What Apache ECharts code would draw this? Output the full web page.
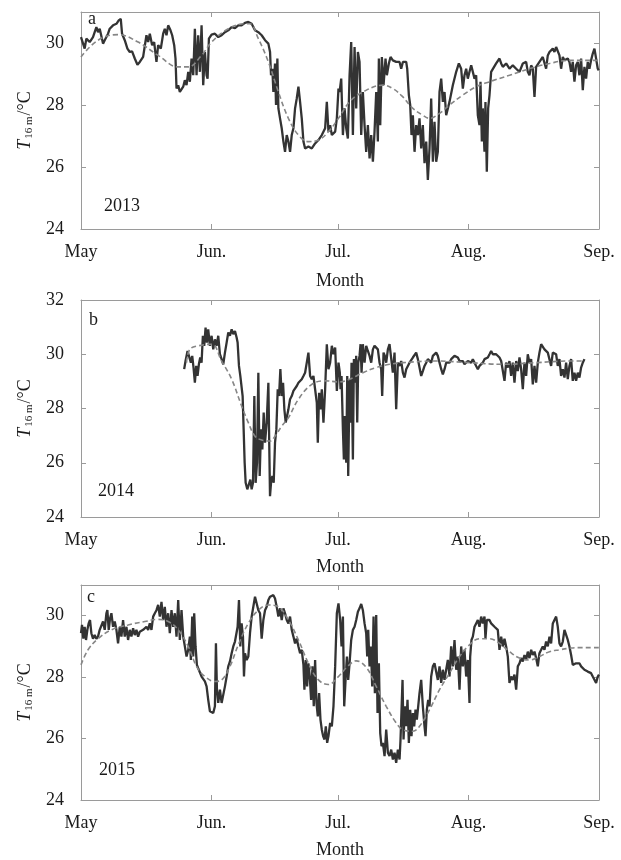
<!DOCTYPE html>
<html>
<head>
<meta charset="utf-8">
<script src="https://cdn.jsdelivr.net/npm/echarts@6/dist/echarts.min.js"></script>
<style>
html,body{margin:0;padding:0;background:#fff;}
#chart{width:621px;height:860px;}
</style>
</head>
<body>
<div id="chart"></div>
<script>
// x values are days since 1 May
const monthTicks = [0, 31, 61, 92, 123];
const monthLabels = ['May', 'Jun.', 'Jul.', 'Aug.', 'Sep.'];
const panelLetters = ['a', 'b', 'c'];
const panelYears = ['2013', '2014', '2015'];
const yMax = [31, 32, 31];
const yTicksA = [24, 26, 28, 30];
const yTicksB = [24, 26, 28, 30, 32];
const yTicksC = [24, 26, 28, 30];

const obs2013 = [[0,30.19],[0.87,29.82],[1.27,30.14],[2.06,30.03],[2.85,30.19],[3.65,30.51],[4.04,30.35],[4.44,30.46],[5.23,29.98],[5.63,30.09],[6.42,30.30],[6.82,30.46],[7.61,30.57],[8.41,30.62],[8.96,30.73],[9.44,30.78],[9.75,30.30],[10.39,30.09],[11.02,29.82],[11.58,29.71],[12.13,29.73],[12.77,29.50],[13.40,29.30],[13.96,29.39],[14.75,29.55],[15.54,30.25],[15.94,30.03],[16.34,30.30],[16.89,29.93],[17.37,30.03],[17.92,29.39],[18.32,29.93],[18.95,29.82],[19.51,30.30],[19.90,30.46],[20.30,30.25],[20.70,30.57],[21.25,30.41],[21.65,30.25],[22.13,29.93],[22.44,29.50],[22.68,28.53],[23.08,28.64],[23.47,28.42],[23.87,28.48],[24.27,28.59],[24.66,28.80],[25.06,28.64],[25.46,29.07],[25.85,28.75],[26.25,29.50],[26.65,28.96],[27.04,30.46],[27.44,28.96],[27.83,30.25],[28.23,29.07],[28.63,30.57],[29.02,28.64],[29.42,29.71],[29.82,28.96],[30.06,28.85],[30.37,30.14],[31.01,30.27],[31.80,30.30],[32.59,30.19],[33.39,30.25],[34.18,30.35],[34.97,30.41],[35.77,30.51],[36.56,30.48],[37.35,30.57],[38.14,30.57],[38.94,30.65],[39.73,30.68],[40.52,30.62],[41.32,30.41],[42.11,30.35],[42.90,30.25],[43.70,30.09],[44.49,29.98],[44.89,29.71],[45.12,28.96],[45.44,29.17],[45.68,28.42],[46.07,29.34],[46.31,28.00],[46.63,29.50],[46.87,27.89],[47.26,27.57],[47.66,27.25],[48.06,26.82],[48.45,26.49],[48.85,27.03],[49.25,26.82],[49.64,26.49],[50.04,27.03],[50.44,27.25],[50.83,27.89],[51.23,28.21],[51.63,28.59],[52.02,28.10],[52.42,27.57],[52.82,26.82],[53.21,26.60],[54.0,26.66],[54.80,26.60],[55.59,26.76],[56.38,26.87],[57.18,27.03],[57.97,27.25],[58.37,28.10],[58.76,27.14],[59.16,27.35],[59.56,27.03],[60.35,27.14],[60.75,27.57],[61.14,28.53],
[61.40,28.42],[61.79,28.85],[62.19,27.03],[62.58,27.89],[62.98,27.25],[63.37,26.92],[63.77,28.96],[64.16,30.03],[64.56,27.03],[64.96,29.87],[65.35,27.89],[65.75,29.71],[66.14,29.39],[66.54,27.03],[66.93,28.42],[67.33,27.35],[67.72,26.49],[68.12,27.35],[68.52,26.28],[68.91,27.03],[69.31,26.17],[69.70,27.14],[70.10,28.42],[70.49,26.82],[70.73,29.50],[71.05,27.35],[71.44,29.55],[71.84,28.64],[72.31,29.50],[72.63,28.96],[73.10,29.34],[73.50,29.55],[74.05,29.44],[74.84,29.39],[75.64,29.39],[76.03,29.17],[76.43,29.39],[77.22,29.39],[77.46,29.17],[77.85,28.32],[78.17,28.00],[78.48,27.03],[78.80,27.67],[79.20,26.49],[79.59,27.35],[79.99,27.03],[80.38,27.57],[80.78,26.60],[81.17,27.35],[81.57,26.12],[81.97,26.82],[82.36,25.58],[82.76,26.60],[83.15,28.21],[83.55,26.17],[83.94,27.46],[84.34,26.17],[84.73,26.49],[85.13,28.42],[85.53,28.85],[85.92,28.10],[86.32,28.42],[86.71,27.67],[87.50,28.10],[88.29,28.64],[89.09,29.07],[89.72,29.34],[90.27,29.17],[90.67,28.53],[91.06,28.96],[91.46,29.17],[91.85,28.85],[92.25,29.07],[92.65,29.28],[93.04,29.34],[93.44,28.85],[93.83,28.96],[94.23,27.67],[94.62,27.35],[94.86,28.75],[95.18,26.82],[95.41,27.89],[95.81,26.49],[96.04,28.10],[96.36,25.85],[96.68,27.89],[97.00,28.32],[97.39,29.07],[97.79,29.12],[98.58,29.34],[99.37,29.50],[99.77,29.34],[100.16,29.23],[100.95,29.34],[101.74,29.17],[102.53,29.28],[103.33,29.17],[103.72,29.23],[104.12,29.07],[104.91,29.34],[105.30,29.28],[105.70,29.39],[106.09,29.07],[106.49,28.96],[106.89,29.28],[107.28,29.17],[107.68,28.26],[108.07,29.23],[108.86,29.39],[109.65,29.55],[110.05,29.50],[110.44,29.17],[110.84,29.60],[111.24,29.71],[111.63,29.76],[112.03,29.82],[112.42,29.71],[112.82,29.87],[113.21,29.84],[113.61,29.60],[114.00,29.17],[114.40,29.55],[114.80,29.44],[115.19,29.39],[115.59,29.50],[115.98,29.39],[116.38,29.07],[116.77,29.39],[117.17,28.75],[117.56,29.28],[117.96,29.39],[118.35,28.96],[118.75,29.50],[119.15,28.48],[119.54,29.23],[119.94,28.85],[120.33,29.39],[120.73,29.17],[121.12,29.44],[121.52,29.66],[121.92,29.82],[122.31,29.76],[122.71,29.17],[122.94,29.12]];

const trend2013 = [[0,29.55],[4.04,30.09],[8.8,30.27],[13.56,30.03],[18.32,29.60],[23.08,29.23],[25.46,29.23],[28.63,29.60],[31.01,30.03],[34.97,30.46],[38.94,30.62],[40.1,30.62],[42.11,30.14],[44.49,29.39],[46.87,28.42],[49.25,27.57],[51.63,27.03],[54.0,26.82],[56.38,26.87],[58.76,27.14],[61.14,27.57],[63.77,28.10],[66.93,28.42],[71.68,28.64],[74.05,28.53],[76.43,28.26],[78.80,27.89],[81.17,27.67],[82.76,27.57],[85.13,27.73],[87.50,28.00],[90.67,28.32],[93.83,28.59],[97.0,28.75],[101.74,28.96],[106.49,29.17],[111.24,29.34],[115.98,29.44],[123,29.44]];

const obs2014 = [[24.50,29.45],[24.82,29.75],[25.30,30.12],[25.69,30.18],[26.09,29.69],[26.41,29.94],[26.72,29.51],[27.04,28.95],[27.36,29.57],[27.68,29.20],[27.99,29.63],[28.31,29.88],[28.63,29.69],[28.94,30.68],[29.26,30.31],[29.58,30.98],[29.90,30.43],[30.21,30.92],[30.61,30.31],[31.01,30.68],[31.40,30.18],[31.80,30.55],[32.20,30.31],[32.59,30.68],[32.99,30.00],[33.39,29.82],[33.78,29.63],[34.18,30.06],[34.58,30.43],[34.97,30.80],[35.37,30.68],[35.77,30.92],[36.16,30.74],[36.56,30.86],[36.95,30.62],[37.19,30.43],[37.51,29.57],[37.83,29.20],[38.14,29.14],[38.38,28.46],[38.62,27.23],[38.86,26.00],[39.10,25.26],[39.49,25.02],[39.89,24.95],[40.21,25.38],[40.52,25.02],[40.84,25.26],[41.16,28.46],[41.47,25.26],[41.79,26.00],[42.11,29.32],[42.43,25.51],[42.74,27.23],[43.06,26.49],[43.38,27.85],[43.70,26.74],[44.09,27.48],[44.49,28.95],[44.88,24.77],[45.12,25.26],[45.44,25.51],[45.76,25.26],[46.07,26.74],[46.39,27.23],[46.71,28.71],[47.03,28.46],[47.34,29.45],[47.66,28.46],[47.98,28.95],[48.29,27.97],[48.61,27.48],[48.93,27.72],[49.25,27.97],[49.64,28.34],[50.04,28.46],[50.44,28.65],[50.83,28.71],[51.23,28.83],[51.63,28.95],[52.02,28.89],[52.42,29.08],[52.82,29.20],[53.21,29.32],[53.61,29.69],[54.00,30.06],[54.40,29.20],[54.80,29.08],[55.19,29.20],[55.59,28.71],[55.99,28.22],[56.23,26.74],[56.54,28.58],[56.86,27.97],[57.18,28.71],[57.57,27.48],[57.97,28.71],[58.37,30.37],[58.76,29.45],[59.16,29.69],[59.56,30.31],[59.95,30.00],[60.35,30.25],[60.75,28.65],[61.14,29.69],[61.46,29.32],
[61.63,28.71],[61.87,29.20],[62.19,27.23],[62.42,26.12],[62.66,27.72],[62.98,26.00],[63.22,29.20],[63.45,25.51],[63.77,29.08],[64.01,27.48],[64.24,29.69],[64.56,26.12],[64.80,29.82],[65.03,28.95],[65.35,29.94],[65.59,27.48],[65.83,29.69],[66.14,29.94],[66.38,30.37],[66.62,29.32],[66.93,30.37],[67.33,29.69],[67.72,30.31],[68.12,30.12],[68.52,29.94],[68.91,29.69],[69.31,30.18],[69.70,30.31],[70.10,30.37],[70.49,30.18],[70.89,29.69],[71.28,29.45],[71.52,28.46],[71.84,30.06],[72.15,29.94],[72.47,29.69],[72.87,30.18],[73.26,30.37],[73.66,30.31],[74.05,29.32],[74.45,30.06],[74.84,27.97],[75.24,29.69],[75.64,29.57],[76.03,29.75],[76.43,29.32],[76.82,29.14],[77.22,29.45],[77.61,29.38],[78.01,29.69],[78.40,29.75],[78.80,29.88],[79.20,29.94],[79.59,30.06],[79.99,29.82],[80.38,29.51],[80.78,29.20],[81.17,29.38],[81.57,29.57],[81.97,29.69],[82.36,29.82],[82.76,29.88],[83.15,29.69],[83.55,29.94],[83.94,29.94],[84.34,30.06],[84.73,29.94],[85.13,29.69],[85.53,29.45],[85.92,29.26],[86.32,29.45],[86.71,29.69],[87.11,29.75],[87.50,29.69],[87.90,29.82],[88.29,29.88],[88.69,29.94],[89.09,29.88],[89.48,29.88],[89.88,29.75],[90.27,29.69],[90.67,29.75],[91.06,29.63],[91.46,29.69],[91.85,29.75],[92.25,29.75],[92.65,29.69],[93.04,29.82],[93.44,29.75],[93.83,29.57],[94.23,29.45],[94.62,29.57],[95.02,29.63],[95.41,29.69],[95.81,29.82],[96.20,29.75],[96.60,29.88],[97.00,30.00],[97.39,30.12],[97.79,30.00],[98.18,29.94],[98.58,30.00],[98.97,29.96],[99.37,29.88],[99.77,29.75],[100.16,29.69],[100.56,29.02],[100.95,29.69],[101.35,29.51],[101.74,29.75],[102.14,29.20],[102.53,29.69],[102.93,28.95],[103.33,29.75],[103.72,29.38],[104.12,29.88],[104.51,29.45],[104.91,28.71],[105.30,29.69],[105.70,29.20],[106.09,30.00],[106.49,29.69],[106.89,29.82],[107.28,28.89],[107.68,29.57],[108.07,28.95],[108.47,29.69],[108.86,30.06],[109.26,30.37],[109.65,30.31],[110.05,30.18],[110.44,30.18],[110.84,30.06],[111.24,30.00],[111.63,29.57],[112.03,30.06],[112.42,30.12],[112.82,30.00],[113.21,29.57],[113.61,29.82],[114.00,29.20],[114.40,29.45],[114.80,29.14],[115.19,29.69],[115.59,29.08],[115.98,29.57],[116.38,29.82],[116.77,29.02],[117.17,29.32],[117.56,29.02],[117.96,29.32],[118.35,29.14],[118.75,29.51],[119.15,29.69],[119.54,29.82]];

const trend2014 = [[25.06,29.69],[25.85,30.18],[27.83,30.31],[31.0,30.37],[33.39,29.75],[35.77,29.08],[38.14,28.09],[39.73,27.48],[41.32,26.98],[42.9,26.84],[44.88,26.80],[46.07,26.98],[47.66,27.35],[49.25,27.66],[51.63,28.34],[54.80,28.89],[57.97,29.02],[61.14,28.98],[63.77,29.08],[66.93,29.32],[70.10,29.51],[73.26,29.63],[76.43,29.69],[84.34,29.75],[92.25,29.69],[100.16,29.63],[108.07,29.69],[115.98,29.75],[119.54,29.75]];

const obs2015 = [[0,29.43],[0.24,29.70],[0.56,29.25],[0.87,29.64],[1.19,29.21],[1.51,29.54],[1.82,29.75],[2.14,29.86],[2.46,29.43],[2.85,29.25],[3.25,29.37],[3.65,29.25],[4.04,29.32],[4.44,29.54],[4.84,29.48],[5.23,29.81],[5.63,29.54],[6.03,30.08],[6.26,30.18],[6.58,29.54],[6.90,29.91],[7.22,30.08],[7.61,29.64],[8.01,29.81],[8.41,29.54],[8.80,29.10],[9.20,29.64],[9.60,29.32],[9.99,29.86],[10.39,29.32],[10.79,29.64],[11.18,29.21],[11.58,29.54],[11.97,29.32],[12.37,29.59],[12.77,29.37],[13.16,29.54],[13.56,29.32],[13.96,29.48],[14.35,29.43],[14.75,29.54],[15.15,29.48],[15.54,29.64],[15.94,29.54],[16.34,29.75],[16.73,29.54],[17.13,29.97],[17.53,30.08],[17.92,30.18],[18.32,30.35],[18.72,29.97],[19.11,30.45],[19.51,29.86],[19.90,30.29],[20.30,29.64],[20.70,30.08],[21.09,29.43],[21.49,30.18],[21.89,29.64],[22.28,30.08],[22.68,29.32],[23.08,30.51],[23.47,29.21],[23.87,30.18],[24.27,29.32],[24.66,29.00],[25.06,28.67],[25.46,28.89],[25.85,29.32],[26.09,28.56],[26.41,29.97],[26.65,28.67],[26.88,30.08],[27.20,29.00],[27.52,28.40],[27.83,28.29],[28.23,28.24],[28.63,28.02],[29.02,27.97],[29.42,27.86],[29.82,27.70],[30.21,27.26],[30.61,26.89],[31.01,26.83],[31.40,26.83],[31.80,27.05],[32.04,29.10],[32.28,27.59],[32.59,27.16],[32.99,27.59],[33.39,27.16],[33.78,27.10],[34.18,27.70],[34.58,28.02],[34.97,28.35],[35.37,28.51],[35.77,28.78],[36.16,29.00],[36.56,29.16],[36.95,29.21],[37.19,29.64],[37.51,30.51],[37.83,29.00],[38.14,29.75],[38.46,29.32],[38.70,28.02],[38.94,28.78],[39.33,28.56],[39.73,28.67],[40.13,29.43],[40.52,29.97],[40.92,30.29],[41.32,30.62],[41.71,30.67],[42.11,30.18],[42.51,30.08],[42.90,29.25],[43.30,29.86],[43.70,30.18],[44.09,30.29],[44.49,30.51],[44.88,30.62],[45.28,30.67],[45.68,30.67],[46.07,30.56],[46.47,30.29],[46.87,29.97],[47.26,30.24],[47.66,29.86],[48.06,30.24],[48.45,30.08],[48.85,29.86],[49.25,29.75],[49.64,29.97],[50.04,29.54],[50.44,29.32],[50.83,29.10],[51.23,29.25],[51.63,29.00],[52.02,28.78],[52.42,28.89],[52.82,28.40],[53.05,27.59],[53.37,28.56],[53.69,27.70],[54.00,28.45],[54.32,28.02],[54.64,27.26],[54.96,28.35],[55.27,27.05],[55.59,28.56],[55.91,27.16],[56.23,26.72],[56.54,27.48],[56.86,26.62],[57.18,26.29],[57.49,26.08],[57.81,25.97],[58.13,26.40],[58.45,25.86],[58.76,26.08],[59.16,26.51],[59.56,26.40],[59.95,27.05],[60.35,28.35],[60.75,30.08],[61.14,30.40],[61.54,29.86],
[61.87,29.00],[62.19,29.97],[62.50,27.05],[62.82,27.91],[63.14,28.67],[63.45,27.91],[63.77,28.45],[64.16,29.21],[64.56,29.54],[64.96,29.64],[65.35,29.86],[65.75,30.13],[66.14,30.24],[66.54,30.38],[66.93,30.18],[67.33,29.75],[67.72,29.43],[67.96,28.67],[68.20,29.54],[68.52,28.35],[68.83,29.00],[69.15,27.70],[69.47,29.97],[69.78,27.48],[70.10,30.02],[70.41,26.83],[70.73,28.45],[71.05,26.18],[71.36,25.75],[71.68,25.86],[72.08,25.43],[72.47,26.29],[72.87,25.54],[73.26,25.43],[73.66,25.64],[74.05,25.32],[74.45,25.54],[74.84,25.21],[75.24,25.64],[75.64,25.32],[75.87,25.97],[76.11,26.94],[76.35,27.91],[76.59,25.97],[76.90,27.05],[77.22,26.40],[77.53,27.26],[77.85,25.86],[78.17,26.94],[78.48,26.08],[78.80,26.83],[79.12,26.40],[79.43,26.94],[79.75,26.62],[80.07,27.05],[80.38,27.48],[80.78,27.91],[81.17,27.05],[81.57,26.40],[81.81,26.08],[82.12,26.94],[82.44,27.26],[82.76,27.05],[83.15,28.02],[83.55,28.35],[83.94,28.45],[84.34,28.51],[84.73,27.91],[85.13,28.35],[85.53,27.81],[85.92,28.24],[86.32,27.91],[86.71,28.24],[87.11,28.56],[87.50,28.02],[87.90,29.00],[88.29,28.35],[88.69,29.21],[89.09,28.24],[89.48,28.67],[89.88,27.59],[90.27,29.00],[90.67,28.35],[91.06,28.89],[91.46,28.02],[91.85,28.56],[92.25,27.16],[92.41,28.67],[92.72,29.21],[93.04,29.32],[93.44,29.64],[93.83,29.75],[94.23,29.86],[94.62,29.64],[95.02,29.97],[95.41,29.75],[95.81,29.97],[96.04,29.25],[96.36,29.86],[96.68,29.81],[97.00,29.86],[97.39,29.75],[97.79,29.75],[98.18,29.64],[98.58,29.64],[98.97,29.54],[99.37,28.89],[99.77,29.32],[100.16,29.00],[100.56,29.25],[100.95,29.00],[101.35,28.67],[101.74,27.81],[102.14,28.02],[102.53,27.91],[102.93,28.08],[103.33,27.59],[103.72,28.35],[104.12,28.45],[104.51,28.62],[104.91,28.51],[105.30,28.72],[105.70,28.56],[106.09,28.83],[106.49,28.62],[106.89,28.89],[107.28,28.72],[107.68,28.83],[108.07,28.62],[108.47,28.35],[108.86,28.78],[109.26,28.89],[109.65,29.00],[110.05,28.89],[110.44,29.16],[110.84,29.00],[111.24,29.32],[111.63,29.10],[112.03,29.75],[112.42,29.86],[112.82,29.97],[113.21,29.64],[113.61,29.10],[114.00,29.00],[114.40,29.16],[114.80,29.54],[115.19,29.59],[115.59,29.21],[115.98,29.00],[116.38,28.72],[116.77,28.40],[117.17,28.40],[117.56,28.45],[117.96,28.40],[118.35,28.45],[118.75,28.35],[119.15,28.40],[119.54,28.24],[119.94,28.29],[120.33,28.18],[120.73,28.24],[121.12,28.13],[121.52,28.02],[121.92,28.08],[122.31,27.81],[122.71,28.02],[123,28.08]];

const trend2015 = [[0,28.40],[1.67,28.89],[4.04,29.25],[7.22,29.54],[11.18,29.70],[15.15,29.81],[18.32,29.88],[20.70,29.81],[23.08,29.54],[25.46,29.00],[27.44,28.35],[29.42,28.02],[31.80,27.86],[33.39,27.91],[35.37,28.35],[37.35,29.05],[39.73,29.75],[42.11,30.18],[44.49,30.35],[46.87,30.29],[49.25,29.86],[51.63,29.21],[54.0,28.45],[56.38,27.91],[58.76,27.76],[61.0,28.0],[63.3,28.35],[65.35,28.53],[67.72,28.32],[70.10,27.70],[72.47,27.05],[74.84,26.51],[76.43,26.29],[78.80,26.24],[80.38,26.40],[82.76,26.94],[85.13,27.59],[87.50,28.13],[89.88,28.67],[92.25,29.05],[94.62,29.25],[97.0,29.25],[99.37,29.10],[101.74,28.83],[104.12,28.62],[106.49,28.56],[108.86,28.67],[111.24,28.83],[113.61,28.89],[115.98,28.94],[117.56,28.96],[123,28.96]];

const observed = [obs2013, obs2014, obs2015];
const trends = [trend2013, trend2014, trend2015];
const yTickSets = [yTicksA, yTicksB, yTicksC];

const FONT = '"Liberation Serif", "Times New Roman", serif';
const TXT = '#1a1a1a';
const AX = '#9a9a9a';
const tops = [12, 300, 585];

const grids = [], xAxes = [], yAxes = [], series = [], graphics = [];
const letterY = [19.5, 320, 597.5];
const letterX = [88, 89, 87];
const yearY = [206, 491, 770.5];
const yearX = [104, 98, 99];

for (let i = 0; i < 3; i++) {
  grids.push({left: 81, width: 518, top: tops[i], height: 217, show: false});
  const xBase = {
    gridIndex: i, type: 'value', min: 0, max: 123,
    splitLine: {show: false},
    axisLine: {show: true, onZero: false, lineStyle: {color: AX, width: 1}},
    axisTick: {show: true, inside: true, length: 5, customValues: monthTicks, lineStyle: {color: AX}}
  };
  xAxes.push(Object.assign({}, xBase, {
    position: 'bottom',
    axisLabel: {customValues: monthTicks, formatter: v => monthLabels[monthTicks.indexOf(v)],
      color: TXT, fontFamily: FONT, fontSize: 18, margin: 14},
    name: 'Month', nameLocation: 'middle', nameGap: i === 0 ? 43 : 41,
    nameTextStyle: {color: TXT, fontFamily: FONT, fontSize: 18}
  }));
  xAxes.push(Object.assign({}, xBase, {position: 'top', axisLabel: {show: false}}));
  const yBase = {
    gridIndex: i, type: 'value', min: 24, max: yMax[i],
    splitLine: {show: false},
    axisLine: {show: true, onZero: false, lineStyle: {color: AX, width: 1}},
    axisTick: {show: true, inside: true, length: 5, customValues: yTickSets[i], lineStyle: {color: AX}}
  };
  yAxes.push(Object.assign({}, yBase, {
    position: 'left',
    axisLabel: {customValues: yTickSets[i], color: TXT, fontFamily: FONT, fontSize: 18, margin: 17},
    name: '{t|T}{s|16 m}{n|/°C}', nameLocation: 'middle', nameGap: 42, nameRotate: 90,
    nameTextStyle: {color: TXT, fontFamily: FONT, fontSize: 18,
      rich: {
        t: {fontFamily: FONT, fontSize: 18, fontStyle: 'italic', color: TXT},
        s: {fontFamily: FONT, fontSize: 11, color: TXT, verticalAlign: 'bottom', padding: [8, 1, 0, 1]},
        n: {fontFamily: FONT, fontSize: 18, color: TXT}
      }}
  }));
  yAxes.push(Object.assign({}, yBase, {position: 'right', axisLabel: {show: false}}));
  series.push({
    type: 'line', xAxisIndex: 2 * i, yAxisIndex: 2 * i, data: observed[i],
    showSymbol: false, symbol: 'none', animation: false,
    lineStyle: {color: '#333333', width: 2.3}, z: 2
  });
  series.push({
    type: 'line', xAxisIndex: 2 * i, yAxisIndex: 2 * i, data: trends[i],
    showSymbol: false, symbol: 'none', animation: false, smooth: 0.4,
    lineStyle: {color: '#868686', width: 1.6, type: [5, 3]}, z: 3
  });
  graphics.push({type: 'text', x: letterX[i], y: letterY[i],
    style: {text: panelLetters[i], font: '18px ' + FONT, fill: TXT, textAlign: 'left', textVerticalAlign: 'middle'}});
  graphics.push({type: 'text', x: yearX[i], y: yearY[i],
    style: {text: panelYears[i], font: '18px ' + FONT, fill: TXT, textAlign: 'left', textVerticalAlign: 'middle'}});
}

const chart = echarts.init(document.getElementById('chart'), null, {renderer: 'canvas'});
chart.setOption({
  animation: false,
  backgroundColor: '#ffffff',
  grid: grids, xAxis: xAxes, yAxis: yAxes, series: series, graphic: graphics
});
</script>
</body>
</html>
